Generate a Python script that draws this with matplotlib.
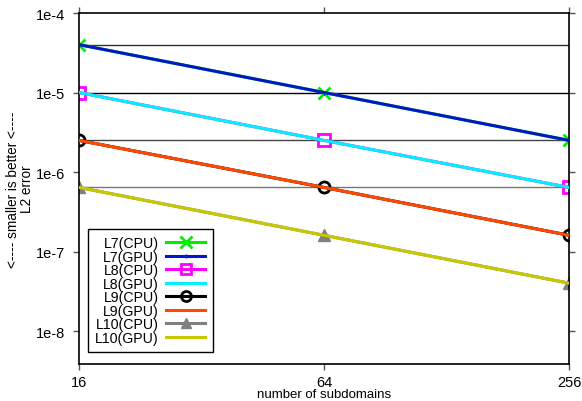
import matplotlib
matplotlib.use("Agg")
import matplotlib.pyplot as plt
from matplotlib.ticker import FixedLocator, FixedFormatter, NullLocator

plt.rcParams['font.family'] = ['Liberation Sans', 'DejaVu Sans']

subdomains = [16, 64, 256]
x_ticklabels = ['16', '64', '256']
y_ticks = [1e-8, 1e-7, 1e-6, 1e-5, 1e-4]
y_ticklabels = ['1e-8', '1e-7', '1e-6', '1e-5', '1e-4']

l7_cpu = [4e-5, 1e-5, 2.5e-6]
l7_gpu = [4e-5, 1e-5, 2.5e-6]
l8_cpu = [1e-5, 2.5e-6, 6.4e-7]
l8_gpu = [1e-5, 2.5e-6, 6.4e-7]
l9_cpu = [2.5e-6, 6.4e-7, 1.6e-7]
l9_gpu = [2.5e-6, 6.4e-7, 1.6e-7]
l10_cpu = [6.4e-7, 1.6e-7, 4e-8]
l10_gpu = [6.4e-7, 1.6e-7, 4e-8]

hline_values = [4e-5, 1e-5, 2.5e-6, 6.4e-7]
hline_colors = ['#333333', '#000000', '#444444', '#777777']

fig = plt.figure(figsize=(5.82, 4.02), dpi=100)
ax = fig.add_axes([79/582, 1-365/402, 490/582, 351/402])
ax.set_xscale('log', base=2)
ax.set_yscale('log')

for v, c in zip(hline_values, hline_colors):
    ax.axhline(v, color=c, lw=1.0, zorder=1)

lw = 2.2
ax.plot(subdomains, l7_cpu, color='#00ee00', lw=lw, marker='x', ms=9, mew=2, label='L7(CPU)', zorder=2)
ax.plot(subdomains, l7_gpu, color='#0018c8', lw=lw, marker='|', ms=3, mew=1, label='L7(GPU)', zorder=3)
ax.plot(subdomains, l8_cpu, color='#ff00ff', lw=lw, marker='s', ms=8, mew=2, mfc='none', label='L8(CPU)', zorder=2)
ax.plot(subdomains, l8_gpu, color='#00f0ff', lw=lw, label='L8(GPU)', zorder=3)
ax.plot(subdomains, l9_cpu, color='#000000', lw=lw, marker='o', ms=8, mew=2, mfc='none', label='L9(CPU)', zorder=2)
ax.plot(subdomains, l9_gpu, color='#ff4800', lw=lw, label='L9(GPU)', zorder=3)
ax.plot(subdomains, l10_cpu, color='#808080', lw=lw, marker='^', ms=8, mew=1, label='L10(CPU)', zorder=2)
ax.plot(subdomains, l10_gpu, color='#c8c800', lw=lw, label='L10(GPU)', zorder=3)

ax.set_xlim(16, 256)
ax.set_ylim(3.85e-9, 1e-4)

ax.xaxis.set_major_locator(FixedLocator(subdomains))
ax.xaxis.set_major_formatter(FixedFormatter(x_ticklabels))
ax.xaxis.set_minor_locator(NullLocator())
ax.yaxis.set_major_locator(FixedLocator(y_ticks))
ax.yaxis.set_major_formatter(FixedFormatter(y_ticklabels))
ax.yaxis.set_minor_locator(NullLocator())

ax.tick_params(axis='both', which='major', labelsize=10.5, direction='out', length=4,
               width=1, color='#555555', pad=6)
ax.tick_params(axis='x', top=True, pad=4)
ax.tick_params(axis='y', right=True)

for s in ax.spines.values():
    s.set_linewidth(1.2)
    s.set_color('black')

ax.set_xlabel('number of subdomains', fontsize=9.5)
ax.xaxis.set_label_coords(0.5, -0.068)
ax.set_ylabel('<---- smaller is better <----\nL2 error', fontsize=9.8, linespacing=1.0)
ax.yaxis.set_label_coords(-0.092, 0.5)

leg = ax.legend(loc='lower left', bbox_to_anchor=(0.018, 0.034), borderaxespad=0,
                markerfirst=False, fontsize=10.2, handlelength=2.75, labelspacing=-0.03,
                handletextpad=0.56, borderpad=0.5, fancybox=False, framealpha=1,
                edgecolor='black', markerscale=0.9)
leg.get_frame().set_linewidth(1.0)

fig.savefig('out.png', dpi=100)
